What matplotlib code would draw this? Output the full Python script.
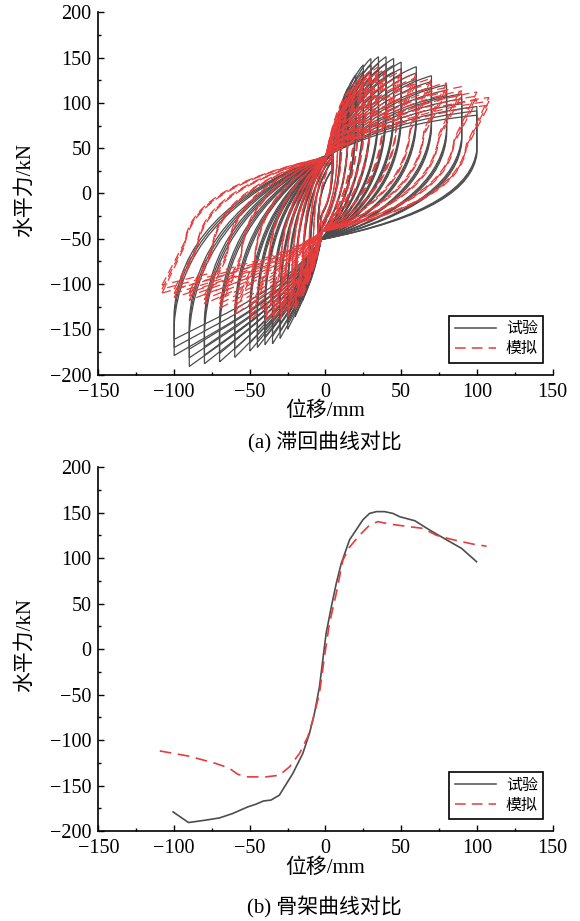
import numpy as np
import matplotlib.pyplot as plt
from matplotlib.path import Path
from matplotlib.patches import PathPatch
from matplotlib.ticker import MultipleLocator
from matplotlib.lines import Line2D

plt.rcParams['font.family'] = ['Liberation Serif', 'Noto Sans CJK SC']

GRAY = '#4d4d4d'
RED = '#e63c3c'

# ---- hysteresis, test (gray): one entry per displacement level ----
g_amp = [5, 10, 15, 20, 25, 30, 35, 40, 45, 50, 60, 70, 80, 90, 100]
g_pos = [55, 92, 117, 131, 142, 149, 151, 151, 149, 145, 140, 130, 120, 110, 96]
g_neg = [-55, -92, -118, -136, -150, -160, -166, -167, -170, -174, -181, -186, -188, -191, -179]
g_drop_pos = [20, 35, 45, 50, 55, 58, 60, 60, 60, 58, 56, 52, 50, 48, 48]
g_drop_neg = [20, 30, 35, 38, 40, 40, 40, 40, 40, 38, 36, 35, 35, 35, 34]
g_pinch_up = [25, 35, 40, 44, 44, 44, 44, 44, 44, 44, 44, 44, 44, 44, 44]
g_pinch_dn = [-25, -38, -45, -51, -51, -51, -51, -51, -51, -51, -51, -51, -51, -51, -51]
g_cycles = [1.0, 0.95, 0.9]

# ---- hysteresis, simulation (red) ----
r_amp = [5, 10, 15, 20, 25, 30, 35, 40, 50, 60, 70, 80, 90, 100, 108]
r_pos = [45, 88, 112, 123, 130, 136, 140, 138, 135, 133, 127, 122, 118, 112, 106]
r_neg = [-45, -90, -113, -128, -136, -139, -140, -141, -140, -134, -127, -122, -118, -115, -110]
r_du = [1, 2, 4, 5, 6, 8, 9, 10, 12, 13, 14, 15, 15, 15, 15]
r_drop = [20, 35, 45, 50, 50, 50, 52, 52, 52, 52, 52, 52, 52, 52, 52]
r_pinch_up = [20, 32, 38, 40, 40, 40, 40, 40, 40, 40, 40, 40, 40, 40, 40]
r_pinch_dn = [-20, -32, -38, -42, -42, -42, -42, -42, -42, -42, -42, -42, -42, -42, -42]
r_cycles = [1.0, 0.96, 0.92]

# ---- skeleton curves ----
skel_test_x = [-100.7, -90.5, -79, -70, -61.4, -51.4, -45.9, -41, -36, -30.5, -21.6, -15, -10.6,
               -7.3, -4, -1.8, 0.4, 3.8, 7.1, 10.4, 15.9, 20.3, 24.7, 29.1, 33.6, 39, 44.6, 49,
               59, 68.9, 80, 89.9, 99.8]
skel_test_y = [-179, -190.7, -188, -185.6, -180.8, -173.5, -170.5, -167, -166, -160.6, -136.8,
               -114.8, -92.8, -70.8, -41.5, -12.2, 17, 46, 72, 94, 120, 131, 142, 149, 151, 151,
               149, 145.4, 141, 130.7, 120, 110.6, 96]
skel_sim_x = [-109.5, -90, -72.4, -63.6, -58, -52.5, -39.3, -30.5, -23.8, -17.2, -11.7, -8.4, -4,
              -0.7, 2.6, 7.1, 11.5, 15.9, 22.5, 29, 34.6, 42.4, 55.6, 64.4, 73.3, 82, 90, 97.5, 106.4]
skel_sim_y = [-112, -117.8, -125.8, -131, -137.6, -140.5, -140.5, -138.7, -129.5, -114.8, -96.5,
              -78, -48.8, -8.6, 28, 61, 97.8, 112, 125, 136, 140, 137.3, 134.4, 132.6, 125, 121,
              118, 115.3, 113]


def seg1(s, p):
    dx, dy = p[0] - s[0], p[1] - s[1]
    return [(s[0] + 0.03 * dx, s[1] + 0.4 * dy), (s[0] + 0.3 * dx, s[1] + 0.75 * dy), p]


def seg2(p, e, m):
    dx, dy = e[0] - p[0], e[1] - p[1]
    return [(p[0] + 0.25 * dx, p[1] + 0.5 * dy), (p[0] + 0.6 * dx, p[1] + (1 - m) * dy), e]


def draw_loop(ax, A, fp, fn, dp, dn, du, pu, pd, **kw):
    verts = [(-A, fn), (-A + du, fn + dn)]
    verts += seg1(verts[-1], pu)
    verts += seg2(pu, (A, fp), 0.15)
    verts.append((A - du, fp - dp))
    verts += seg1(verts[-1], pd)
    verts += seg2(pd, (-A, fn), 0.3)
    codes = [Path.MOVETO, Path.LINETO] + [Path.CURVE4] * 6 + [Path.LINETO] + [Path.CURVE4] * 6
    ax.add_patch(PathPatch(Path(verts, codes), fill=False, **kw))


def style_axes(ax):
    ax.set_xlim(-150, 150)
    ax.set_ylim(-200, 200)
    ax.spines['top'].set_visible(False)
    ax.spines['right'].set_visible(False)
    for s in ['left', 'bottom']:
        ax.spines[s].set_linewidth(1.2)
    ax.xaxis.set_major_locator(MultipleLocator(50))
    ax.xaxis.set_minor_locator(MultipleLocator(25))
    ax.yaxis.set_major_locator(MultipleLocator(50))
    ax.yaxis.set_minor_locator(MultipleLocator(25))
    ax.tick_params(which='major', direction='in', length=4.5, width=1.0, labelsize=14.5)
    ax.tick_params(axis='x', which='major', pad=6)
    ax.tick_params(axis='y', which='major', pad=5)
    ax.tick_params(which='minor', direction='in', length=2.5, width=1.0)
    ax.set_xlabel('位移/mm', fontsize=15)
    ax.set_ylabel('水平力/kN', fontsize=15)
    ax.xaxis.set_label_coords(0.5, -0.075)
    ax.yaxis.set_label_coords(-0.14, 0.51)
    handles = [Line2D([], [], color=GRAY, lw=1.1),
               Line2D([], [], color=RED, lw=1.1, dashes=(7, 4))]
    leg = ax.legend(handles, ['试验', '模拟'], loc='lower right', bbox_to_anchor=(0.98, 0.032),
                    borderaxespad=0, fancybox=False, framealpha=1, edgecolor='black',
                    fontsize=11.5, handlelength=2.6, handletextpad=0.6, borderpad=0.35,
                    labelspacing=0.25)
    leg.get_frame().set_linewidth(1.2)


fig = plt.figure(figsize=(5.8, 9.21), dpi=100)
ax1 = fig.add_axes([0.1698, 0.5933, 0.7828, 0.3933])
ax2 = fig.add_axes([0.1698, 0.0977, 0.7828, 0.3952])

# (a) hysteresis
for i, A in enumerate(g_amp):
    for c in g_cycles:
        draw_loop(ax1, A, g_pos[i] * c, g_neg[i] * c, g_drop_pos[i] * c, g_drop_neg[i] * c, 0,
                  (4, g_pinch_up[i]), (-3, g_pinch_dn[i]), edgecolor=GRAY, lw=0.9)
for i, A in enumerate(r_amp):
    for c in r_cycles:
        draw_loop(ax1, A, r_pos[i] * c, r_neg[i] * c, r_drop[i] * c, r_drop[i] * c, r_du[i],
                  (0, r_pinch_up[i]), (-2, r_pinch_dn[i]), edgecolor=RED, lw=0.9,
                  linestyle=(0, (7, 4)))
style_axes(ax1)

# (b) skeleton
ax2.plot(skel_test_x, skel_test_y, color=GRAY, lw=1.2)
ax2.plot(skel_sim_x, skel_sim_y, color=RED, lw=1.2, dashes=(7, 4))
style_axes(ax2)

fig.text(0.56, 1 - 442 / 921, '(a) 滞回曲线对比', fontsize=15, ha='center', va='center')
fig.text(0.56, 1 - 907 / 921, '(b) 骨架曲线对比', fontsize=15, ha='center', va='center')

fig.savefig('out.png', dpi=100)
